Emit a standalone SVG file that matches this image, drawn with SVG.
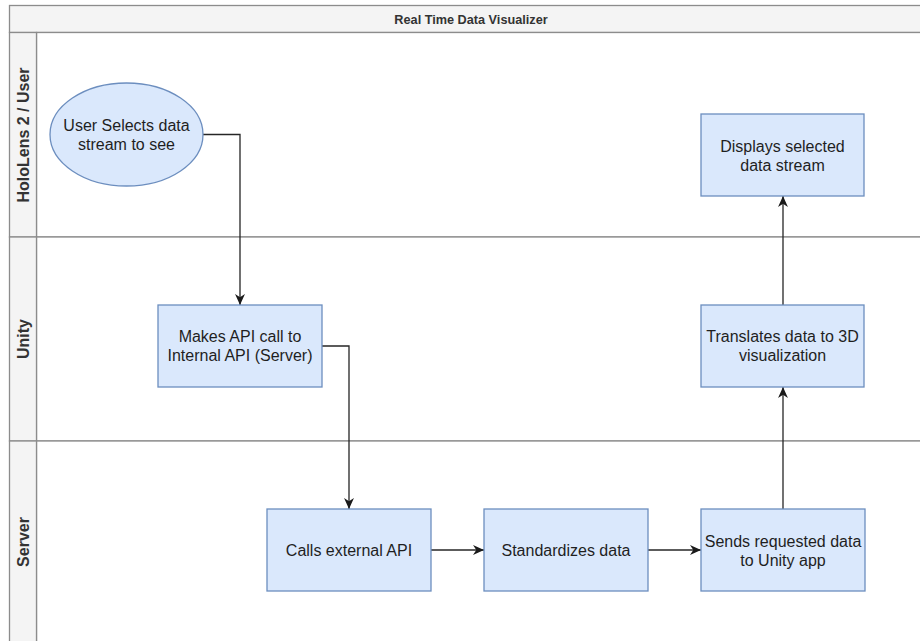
<svg xmlns="http://www.w3.org/2000/svg" width="920" height="641" viewBox="0 0 920 641">
<defs>
<style>
.lane{fill:#ffffff;stroke:#8c8c8c;stroke-width:1.3}
.hdr{fill:#f4f4f4;stroke:#8c8c8c;stroke-width:1.3}
.title{font-family:"Liberation Sans",Arial,sans-serif;font-weight:bold;font-size:12.7px;fill:#333333}
.lbl{font-family:"Liberation Sans",Arial,sans-serif;font-weight:bold;font-size:16px;fill:#333333}
.box{fill:#dae8fc;stroke:#6c8ebf;stroke-width:1.3}
.t{font-family:"Liberation Sans",Arial,sans-serif;font-size:16px;fill:#1f1f1f;text-anchor:middle}
.edge{fill:none;stroke:#262626;stroke-width:1.3}
</style>
<marker id="arr" viewBox="0 0 10 10" refX="10" refY="5" markerWidth="11" markerHeight="11" markerUnits="userSpaceOnUse" orient="auto">
<path d="M0,0.5 L10,5 L0,9.5 L3,5 z" fill="#1a1a1a"/>
</marker>
</defs>
<rect width="920" height="641" fill="#ffffff"/>
<g id="pool">
<rect class="hdr" x="9.5" y="5.5" width="930" height="27"/>
<text class="title" x="471" y="23.5" text-anchor="middle">Real Time Data Visualizer</text>
</g>
<g id="lane-hololens">
<rect class="lane" x="36.5" y="32.5" width="900" height="204.5"/>
<rect class="hdr" x="9.5" y="32.5" width="27" height="204.5"/>
<text class="lbl" transform="translate(28.5,135) rotate(-90)" text-anchor="middle">HoloLens 2 / User</text>
</g>
<g id="lane-unity">
<rect class="lane" x="36.5" y="237" width="900" height="204"/>
<rect class="hdr" x="9.5" y="237" width="27" height="204"/>
<text class="lbl" transform="translate(28.5,339) rotate(-90)" text-anchor="middle">Unity</text>
</g>
<g id="lane-server">
<rect class="lane" x="36.5" y="441" width="900" height="210"/>
<rect class="hdr" x="9.5" y="441" width="27" height="210"/>
<text class="lbl" transform="translate(28.5,542) rotate(-90)" text-anchor="middle">Server</text>
</g>
<g id="connectors">
<path class="edge" d="M203,134.5 H240 V305" marker-end="url(#arr)"/>
<path class="edge" d="M322,346 H349 V509" marker-end="url(#arr)"/>
<path class="edge" d="M431,550 H484" marker-end="url(#arr)"/>
<path class="edge" d="M648,550 H701" marker-end="url(#arr)"/>
<path class="edge" d="M783,509 V387" marker-end="url(#arr)"/>
<path class="edge" d="M783,305 V196" marker-end="url(#arr)"/>
</g>
<g id="user-selects">
<ellipse class="box" cx="126.5" cy="134.5" rx="76.5" ry="51.5"/>
<text class="t" x="126.5" y="131">User Selects data</text>
<text class="t" x="126.5" y="150">stream to see</text>
</g>
<g id="displays">
<rect class="box" x="701" y="114" width="163" height="82"/>
<text class="t" x="782.5" y="151.5">Displays selected</text>
<text class="t" x="782.5" y="170.5">data stream</text>
</g>
<g id="makes-api-call">
<rect class="box" x="158" y="305" width="164" height="82"/>
<text class="t" x="240" y="342">Makes API call to</text>
<text class="t" x="240" y="361">Internal API (Server)</text>
</g>
<g id="translates">
<rect class="box" x="701" y="305" width="163" height="82"/>
<text class="t" x="782.5" y="342">Translates data to 3D</text>
<text class="t" x="782.5" y="361">visualization</text>
</g>
<g id="calls-external">
<rect class="box" x="267" y="509" width="164" height="82"/>
<text class="t" x="349" y="556">Calls external API</text>
</g>
<g id="standardizes">
<rect class="box" x="484" y="509" width="164" height="82"/>
<text class="t" x="566" y="556">Standardizes data</text>
</g>
<g id="sends">
<rect class="box" x="701" y="509" width="164" height="82"/>
<text class="t" x="783" y="546.5">Sends requested data</text>
<text class="t" x="783" y="565.5">to Unity app</text>
</g>
</svg>
